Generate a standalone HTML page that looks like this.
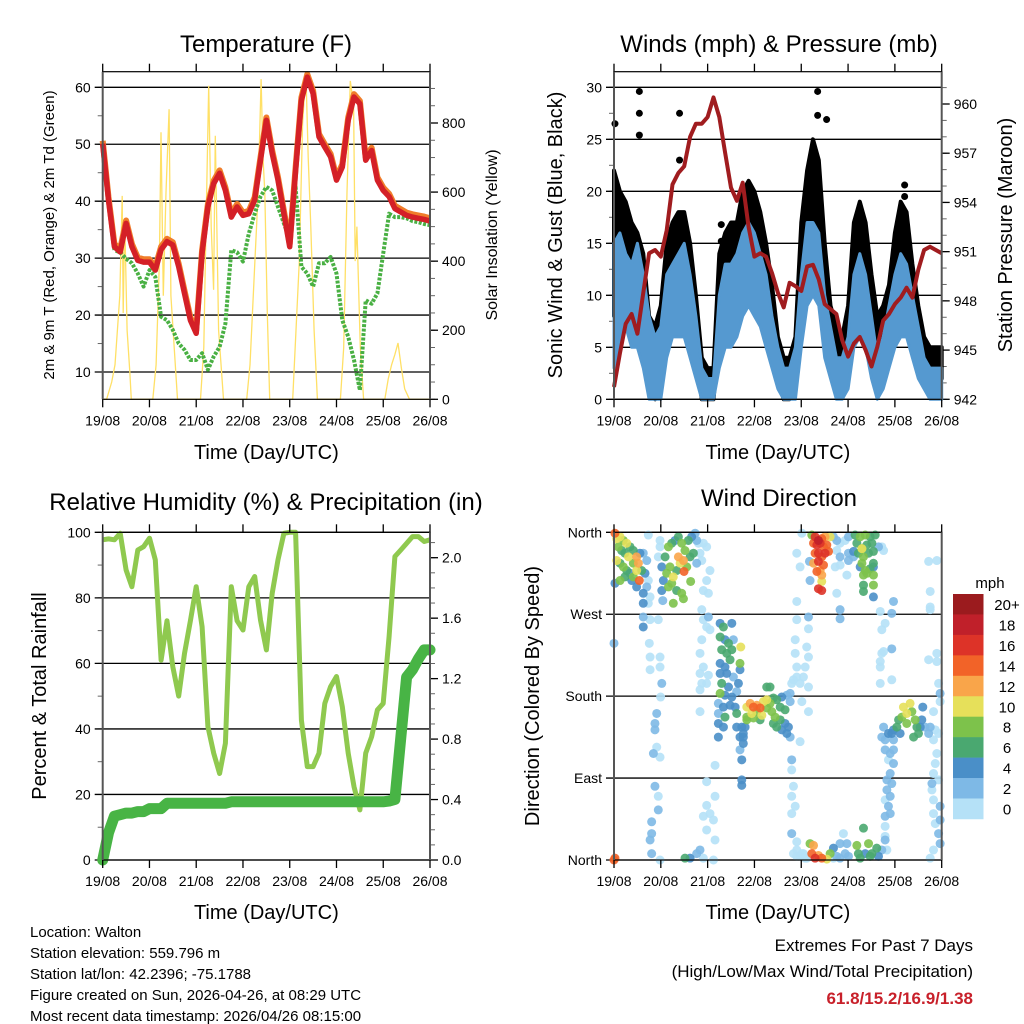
<!DOCTYPE html>
<html><head><meta charset="utf-8"><style>
html,body{margin:0;padding:0;background:#fff}
svg{display:block;font-family:"Liberation Sans",sans-serif}
</style></head><body>
<svg id="c" width="1024" height="1024" viewBox="0 0 1024 1024"></svg>
<script>
// ---------- DATA (3-hourly, hours since 19/08 00 UTC) ----------
const tempT2m=[50.1,40.2,32,31.1,36.1,32,29.6,29.3,29.3,27.9,31.5,32.9,32.3,28.5,23.8,19.1,16.8,30.9,39,43.1,44.9,41.9,37.2,39,37.5,37.8,40.2,47.2,54.2,48.4,43.7,37.8,32,45.4,57.7,61.8,58.9,51.3,49.5,47.8,43.7,46,54.2,58.3,57.1,47.2,48.9,43.7,41.9,40.8,38.7,38.1,37.5,37.2,37,36.8,36.5];
const tempTd=[50,40,31.4,31,29.9,29.1,27.3,25,27.9,26.7,19.7,19.1,17.4,15,13.9,12.1,12.1,13.3,10.4,12.7,14.4,18.5,31.4,31,29.4,34.3,37.8,40.8,42.5,41.9,39,36.1,33.2,42.5,28.5,27.3,25,29.1,29.1,30.2,27.3,19.1,16.2,12.1,6.8,22.6,22,23.8,30.8,37.8,37.2,37.2,37,36.5,36.3,36,35.8];
const solarHours=[0,2,4.6,6.3,8.8,10,10.5,11.3,12.5,13.9,14.7,25.7,27.4,29.1,29.9,31.1,32.5,34.1,35,36.7,38.4,50.2,51.9,53,54.4,55.7,56.9,57.8,59.5,62,73.9,75.6,78.1,79.8,81.3,82.3,83.2,84.5,85.7,97.5,99.2,100.9,102.6,104.3,105.5,106.8,108.5,110.2,122,123.7,125.4,127.1,128.8,129.6,130.5,132.2,133.9,144.8,146.6,148.3,150,151.6,153.3,155,157.5,168];
const solarVals=[0,0,50,100,300,589,250,520,200,80,0,0,100,400,773,300,600,840,300,150,0,0,150,500,908,500,317,763,200,0,0,100,400,600,927,700,600,250,0,0,200,400,800,947,700,500,200,0,0,150,600,922,850,400,500,150,0,0,60,100,130,163,90,30,0,0];
const windHi=[15,16,14,13,15,12,8,6,7,12,13,14,15,12,8,3,2,2,10,13,13,14,16,17,16,14,12,8,5,3,3,5,12,17,17,16,10,7,4,4,6,12,14,12,8,4,6,9,12,14,13,10,7,4,3,3,3];
const windLo=[3,6,7,5,5,3,0,0,0,4,6,6,6,4,2,0,0,0,3,5,5,6,8,9,8,7,5,3,1,0,0,0,5,9,10,9,4,2,0,0,1,5,6,5,2,0,1,3,5,6,6,4,2,1,0,0,0];
const gustHi=[22,20,19,17,16,14,8,7,9,15,17,18,18,15,10,4,3,3,14,16,17,17,20,21,20,18,15,11,6,4,4,6,17,22,25,23,15,9,7,6,9,17,19,17,12,8,9,11,16,19,18,13,9,6,5,5,5];
const gustLo=[8,12,11,9,10,6,1,0,1,6,10,11,10,7,4,0,0,0,6,8,8,9,13,13,12,10,8,5,2,0,0,1,8,12,15,13,7,4,1,1,3,7,8,7,4,2,4,5,8,9,8,6,4,2,2,2,2];
const gustOutHours=[0.5,13,13,13,33.6,33.6,55,55,104.4,104.4,109,125,149,149];
const gustOutVals=[26.5,29.6,27.5,25.4,27.5,23,16.8,15.2,29.6,27.3,26.9,15.2,20.6,19.5];
const pressure=[942.75,944.8,946.6,947.2,946,948.5,950.9,951.1,950.7,952.3,955.1,955.8,956.2,958,958.8,958.8,959.2,960.4,959.2,957,954.9,954.1,955.2,952.5,950.7,950.9,950.7,949.7,948.5,947.6,949.1,948.9,948.6,950.1,950.2,949.3,947.8,947.5,947.2,945.6,944.6,945.4,945.8,945,944,945.2,946.8,947.2,947.8,948.2,948.8,948.2,949.9,951.1,951.3,951.1,950.9];
const rh=[97.7,98,97.7,99.7,88.5,83.4,94.6,95.6,98.2,91.6,61,73,59,50,63,73,83.4,71.2,40.7,32.6,26.4,35.6,83.4,73,70.2,83.4,86.5,73.2,64.1,81.4,91.6,99.7,100,100,42.7,28.5,28.5,32.6,47.8,52.9,56,46.8,32.6,22.4,15.3,32.6,37.6,45.8,47.8,68.2,92.6,94.6,96.6,98.7,98.7,97.2,97.7];
const precip=[0,0.18,0.29,0.3,0.31,0.31,0.32,0.32,0.34,0.34,0.34,0.375,0.375,0.375,0.375,0.375,0.375,0.375,0.375,0.375,0.375,0.375,0.385,0.385,0.385,0.385,0.385,0.385,0.385,0.385,0.385,0.385,0.385,0.385,0.385,0.385,0.385,0.385,0.385,0.385,0.385,0.385,0.385,0.385,0.385,0.385,0.385,0.385,0.385,0.39,0.40,0.81,1.21,1.26,1.33,1.39,1.39];
const dayLabels=["19/08","20/08","21/08","22/08","23/08","24/08","25/08","26/08"];
const tempTicks=[10,20,30,40,50,60];
const solarTicks=[0,200,400,600,800];
const windTicks=[0,5,10,15,20,25,30];
const presTicks=[942,945,948,951,954,957,960];
const rhTicks=[0,20,40,60,80,100];
const rainTicks=[0.0,0.4,0.8,1.2,1.6,2.0];
const dirTicks=[0,90,180,270,360];
const dirTickLabels=["North","East","South","West","North"];
const speedBins=["0","2","4","6","8","10","12","14","16","18","20+"];
const speedColors=["#b5e1f7","#7eb9e6","#4a8fc8","#4aa870","#7dc24b","#e6e05a","#f9a54a","#f26328","#dd3328","#c0202a","#9b1b1e"];
// [hours, direction deg, speed class mph]
const windDirObs=[
[0.5,359,16],[1.4,353,12],[3.1,355,12],[4.8,351,10],[6.5,348,12],[8.2,344,8],[2.2,344,10],[3.9,340,8],[5.6,337,8],[7.4,333,12],[9.9,340,8],[11.6,333,14],[13.3,337,6],[15,337,4],[1.4,329,12],[3.1,326,8],[4.8,322,10],[6.5,318,8],[8.2,315,6],[9.9,311,10],[11.6,318,12],[13,307,16],[14.2,318,8],[15.9,315,6],[0.5,304,6],[3.1,307,10],[5.6,311,8],[9.1,307,6],[11.6,300,6],[15,293,6],[15,282,6],[16.8,300,4],[16.8,329,4],[18.5,289,2],[9.9,326,10],[12.5,326,14],
[24.5,322,6],[26.2,333,8],[27.9,344,10],[29.6,348,8],[31.3,351,6],[33,355,8],[34.7,348,10],[36.4,340,10],[38.1,351,8],[39.8,355,6],[41.6,359,4],[42.4,351,4],[25.3,307,6],[27,315,10],[28.7,322,10],[30.4,311,12],[32.1,318,8],[33.9,326,12],[35.6,329,14],[37.3,322,10],[39,333,8],[40.7,337,8],[27.9,300,10],[29.6,304,10],[32.1,296,8],[34.7,293,10],[35.6,287,10],[24.5,296,6],[30.4,282,10],[25,285,4],[39.3,306,10],[33,333,14],[35.9,317,16],[42.4,326,4],[44.1,337,2],[43.3,348,2],
[17.6,357,2],[23.6,351,2],[23.6,344,2],[22.7,333,2],[17.6,307,2],[17.6,282,2],[18.5,264,2],[22.7,264,2],[15,267,4],[15,256,6],[18.1,238,2],[18.5,223,2],[23.6,223,2],[18.5,209,2],[23.6,212,2],[24.5,194,4],[23.9,179,2],[21.9,161,4],[21,150,4],[21,143,4],[21.9,124,2],[20.2,117,4],[23.6,113,2],[21,81,4],[22.7,70,2],[22.7,55,4],[19.3,42,4],[19.3,29,4],[18.5,22,4],[19.3,7,4],[23.6,0,2],[0,238,4],
[45.8,348,2],[47.5,344,2],[45,329,2],[49.2,318,2],[47.5,307,2],[45.8,296,2],[48.4,293,2],[45,275,2],[45.8,264,2],[47.5,256,2],[49.2,253,2],[48.4,267,4],[45,242,2],[44.1,227,2],[45.8,212,2],[44.1,205,2],[48.4,203,2],[45,194,2],[47.5,194,2],[44.1,187,2],[44.1,163,2],[51.8,104,2],[47.5,86,2],[51.8,70,2],[47.5,60,2],[49.2,51,2],[45.8,48,2],[51,44,2],[47.5,33,2],[51.8,22,2],[44.1,11,4],[42.4,7,4],[45.8,2,2],[51,0,2],[36.4,2,8],[39,2,6],
[54.4,260,6],[56.1,256,8],[60.4,260,6],[54.4,245,8],[56.9,242,6],[58.7,238,8],[61.2,242,4],[55.2,231,8],[57.8,227,8],[60.4,231,8],[65,234,12],[54.4,216,6],[56.9,212,6],[59.5,220,8],[64.6,216,10],[54.4,205,6],[57.8,205,6],[61.2,201,4],[64.6,209,6],[55.2,194,8],[58.7,190,6],[63.8,194,6],[54.4,183,10],[56.9,181,6],[60.4,179,6],[62.9,185,4],[53.5,172,4],[56.1,168,6],[59.5,170,6],[62.1,168,6],[53.5,161,4],[56.9,157,8],[62.9,161,8],[53.5,150,6],[56.1,146,6],[62.9,146,6],[53.5,135,6],[65.5,146,6],[64.6,135,6],[66.3,135,6],[66.3,128,6],[64.6,121,4],[65.5,110,6],[65.5,88,6],[65.5,82,6],
[68.1,168,12],[69.8,172,14],[71.5,168,16],[73.2,170,14],[74.9,167,16],[76.6,174,12],[78.3,176,12],[80,172,10],[81.7,178,8],[83.4,176,8],[86,179,6],[88.6,181,4],[90.3,183,4],[68.1,157,10],[70.6,161,12],[73.2,163,10],[75.8,159,12],[78.3,167,10],[80.9,163,10],[82.6,157,10],[85.2,154,8],[87.7,150,6],[89.4,146,6],[68.1,154,10],[71.5,156,10],[74.9,154,8],[78.3,190,8],[80,190,8],[81.7,150,8],[83.4,146,8],[86,143,6],[88.6,139,6],[90.3,135,4],[90.3,174,4],[87.7,165,8],[85.2,168,8],[67.2,146,6],[66.3,139,6],
[91.1,194,2],[92,198,2],[93.7,201,2],[97.1,201,2],[95.4,194,2],[93.7,212,2],[92.9,227,2],[92.9,242,2],[98.8,234,2],[99.7,223,2],[98,212,2],[99.7,190,2],[99.7,163,2],[96.3,174,2],[95.4,130,2],[91.1,110,4],[91.1,99,2],[92,81,2],[91.1,70,2],[92.9,59,2],[91.1,51,2],[91.1,29,4],[93.7,20,2],[93.7,11,2],[95.4,4,2],[97.1,7,2],[98.8,2,2],[93.7,264,2],[93.7,284,2],[95.4,322,2],[93.7,337,2],[96.3,359,2],[100.5,307,4],[99.7,267,4],[99.7,254,2],
[101.4,357,10],[103.1,355,18],[104.8,351,20],[106.5,353,16],[108.2,355,14],[110.8,355,12],[102.3,348,16],[104,346,18],[105.7,348,18],[107.4,344,16],[109.1,346,16],[103.1,337,16],[104.8,337,18],[106.5,333,16],[108.2,337,18],[110,339,16],[102.3,326,14],[104.8,328,18],[107.4,324,16],[105.7,318,14],[104,317,16],[106.5,313,14],[106.5,306,12],[104.8,298,18],[106.5,296,18],[100.2,328,4],[112.5,355,4],[114.2,351,4],[115.9,348,2],[114.2,340,2],[115.9,333,4],[120.2,337,4],[120.2,329,4],[115.9,324,2],[113.4,322,2],[119.4,313,2],[114.2,293,2],[115.9,275,4],[115.9,265,4],[120.2,355,4],[118.5,351,2],
[123.6,357,8],[126.2,355,10],[128.8,357,10],[131.3,355,8],[133.9,357,8],[124.5,348,8],[127.1,342,10],[129.6,346,8],[132.2,348,8],[125.3,337,8],[127.9,333,10],[130.5,337,8],[133,339,8],[127.1,326,10],[128.8,318,10],[131.3,320,8],[133,326,8],[127.9,313,10],[129.6,315,10],[133,313,10],[135.6,344,4],[137.3,344,2],[122.8,339,6],[122.8,333,4],[126.2,322,6],[127.9,302,8],[133,302,10],[133,289,6],[127.9,295,8],[133,322,6],[138.2,340,2],[127.1,342,12],
[136.5,273,2],[142.4,271,4],[143.3,284,4],[137.3,253,2],[139,260,2],[142.4,232,4],[137.3,227,2],[136.5,218,2],[136.5,212,2],[142.4,198,2],[136.5,194,2],[138.2,229,2],[161.3,328,2],[165.5,329,2],[162.1,295,2],[162.1,278,2],[162.1,275,2],[161.3,220,2],[165.5,227,2],[165.5,218,2],[166.4,194,2],[167.2,183,4],[167.2,174,2],[163.8,163,2],
[137.3,135,4],[138.2,146,4],[139,132,4],[140.7,139,6],[142.4,139,6],[143.3,143,6],[145,146,8],[145.9,154,8],[147.6,157,10],[148.4,168,12],[150.1,161,12],[151.8,172,12],[152.7,163,10],[154.4,154,10],[155.3,146,8],[156.1,139,8],[157,146,6],[157.8,154,6],[158.3,168,6],[159.5,146,4],[161.3,139,4],[162.1,146,4],[164.7,143,2],[166.4,139,2],[150.1,150,10],[153.6,135,8],[146.7,139,6],[143.3,132,4],
[139,121,4],[141.6,117,4],[143.3,121,4],[140.7,110,2],[143.3,106,4],[141.6,95,4],[139.9,88,4],[142.4,84,4],[139.9,77,4],[141.6,70,4],[139,66,2],[140.7,59,4],[141.6,51,4],[139,48,4],[139,37,2],[139,26,2],[139.9,11,2],
[163.8,132,2],[165.5,117,2],[164.7,106,2],[163.8,95,2],[166.4,88,2],[163,84,4],[163,77,2],[163.8,66,2],[167.2,59,4],[163.8,51,2],[167.2,44,4],[164.7,40,2],[166.4,29,4],[167.2,18,4],[163.8,11,2],[162.1,2,2],
[92,7,2],[93.7,4,2],[96.3,7,2],[100.5,18,10],[102.3,16,14],[101.4,7,16],[103.1,2,18],[104.8,5,14],[106.5,2,16],[109.1,1,12],[110.8,7,10],[112.5,13,6],[114.2,4,4],[115.9,2,4],[115.9,18,4],[117.6,29,2],[118.5,7,4],[119.4,18,4],[120.2,4,4],[124.5,16,10],[125.3,7,8],[126.2,2,8],[127.9,35,8],[128.8,7,6],[130.5,18,10],[131.3,4,8],[132.2,7,8],[134.7,13,8],[135.6,4,6],[137.3,11,4],[139,22,4],[112.5,2,2],[98,2,2],[0.5,2,16],[0,0,16]
];

// ---------- DRAWING ----------
const NS="http://www.w3.org/2000/svg";
const svg=document.getElementById('c');
function el(tag,attrs,parent){const e=document.createElementNS(NS,tag);for(const k in attrs)e.setAttribute(k,attrs[k]);(parent||svg).appendChild(e);return e;}
function txt(s,x,y,size,anchor,parent,extra){const t=el('text',Object.assign({x:x,y:y,'font-size':size,'text-anchor':anchor||'middle',fill:'#000'},extra||{}),parent);t.textContent=s;return t;}
function lin(d0,d1,r0,r1){return v=>r0+(v-d0)*(r1-r0)/(d1-d0);}
function hoursArr(n){const a=[];for(let i=0;i<n;i++)a.push(i*3);return a;}
const H=hoursArr(57);

function panel(name,L,R,T,B){
  const g=el('g',{});
  
  
  const xs=lin(0,168,L,R);
  return {g,xs,L,R,T,B};
}
function xAxis(p,labelY){
  const ax=el('g',{},p.g);
  
  
  dayLabels.forEach((d,i)=>{
    const x=p.xs(i*24);
    el('line',{x1:x,y1:p.B,x2:x,y2:p.B+8,stroke:'#000','stroke-width':1.3},ax);
    el('line',{x1:x,y1:p.T,x2:x,y2:p.T-8,stroke:'#000','stroke-width':1.3},ax);
    const t=txt(d,x,p.B+26,14,'middle',ax);
    
    
  });
  const t=txt('Time (Day/UTC)',(p.L+p.R)/2,labelY,20,'middle',p.g);
  
  
}
function frame(p){
  el('rect',{x:p.L,y:p.T,width:p.R-p.L,height:p.B-p.T,fill:'none',stroke:'#000','stroke-width':1.2},p.g);
  el('line',{x1:p.L,y1:p.T,x2:p.L,y2:p.B,stroke:'#555','stroke-width':2},p.g);
  el('line',{x1:p.R,y1:p.T,x2:p.R,y2:p.B,stroke:'#555','stroke-width':2},p.g);
}
function leftAxis(p,ticks,ys,minorStep,lo,hi,labels){
  const ax=el('g',{},p.g);
  
  
  if(minorStep){for(let v=lo;v<=hi+1e-9;v+=minorStep){const y=ys(v);if(y<p.T-0.5||y>p.B+0.5)continue;el('line',{x1:p.L-5,y1:y,x2:p.L,y2:y,stroke:'#666','stroke-width':1},ax);}}
  ticks.forEach((v,i)=>{const y=ys(v);
    el('line',{x1:p.L-8,y1:y,x2:p.R,y2:y,stroke:'#000','stroke-width':1.3},ax);
    const t=txt(labels?labels[i]:String(v),p.L-12,y+5,14,'end',ax);
    
    
  });
}
function rightAxis(p,ticks,ys,minorStep,lo,hi,fmt){
  const ax=el('g',{},p.g);
  
  
  if(minorStep){for(let v=lo;v<=hi+1e-9;v+=minorStep){const y=ys(v);if(y<p.T-0.5||y>p.B+0.5)continue;el('line',{x1:p.R,y1:y,x2:p.R+5,y2:y,stroke:'#666','stroke-width':1},ax);}}
  ticks.forEach(v=>{const y=ys(v);
    el('line',{x1:p.R,y1:y,x2:p.R+8,y2:y,stroke:'#000','stroke-width':1.3},ax);
    const t=txt(fmt?fmt(v):String(v),p.R+12,y+5,14,'start',ax);
    
    
  });
}
function vlabel(s,x,y,size,name){
  const t=txt(s,x,y,size,'middle',svg,{transform:`rotate(-90 ${x} ${y})`});
  
  
}
function title(s,x,y,name){const t=txt(s,x,y,24,'middle');}
function pathD(xsArr,ysArr){return xsArr.map((x,i)=>(i?'L':'M')+x.toFixed(1)+','+ysArr[i].toFixed(1)).join('');}

// ===== Panel 1: Temperature =====
const p1=panel('temperature-panel',102.7,430,71.7,399.3);
const tY=lin(10,60,372,87.3), sY=lin(0,800,399.3,123);
title('Temperature (F)',266,52,'temperature-title');
leftAxis(p1,tempTicks,tY,5,5,62);
rightAxis(p1,solarTicks,sY,50,0,950);
const solarPath=el('path',{d:pathD(solarHours.map(p1.xs),solarVals.map(sY)),fill:'none',stroke:'#ffe066','stroke-width':1.3},p1.g);


const tdPath=el('path',{d:pathD(H.map(p1.xs),tempTd.map(tY)),fill:'none',stroke:'#49b043','stroke-width':4,'stroke-dasharray':'3 1.5','stroke-linejoin':'round'},p1.g);


const t9Path=el('path',{d:pathD(H.map(p1.xs),tempT2m.map(v=>tY(v+0.5))),fill:'none',stroke:'#f07d2a','stroke-width':6,'stroke-linejoin':'round'},p1.g);


const t2Path=el('path',{d:pathD(H.map(p1.xs),tempT2m.map(tY)),fill:'none',stroke:'#d42027','stroke-width':5.5,'stroke-linejoin':'round'},p1.g);


frame(p1);xAxis(p1,459);
vlabel('2m & 9m T (Red, Orange) & 2m Td (Green)',54,235,15,'left-y-axis-title');
vlabel('Solar Insolation (Yellow)',497,235,16,'right-y-axis-title');

// ===== Panel 2: Winds =====
const p2=panel('winds-panel',614,941.7,71.7,399.3);
const wY=lin(0,30,399.3,87.3), pY=lin(942,960,399.3,104);
title('Winds (mph) & Pressure (mb)',779,52,'winds-title');
leftAxis(p2,windTicks,wY,2.5,0,31);
rightAxis(p2,presTicks,pY,1,942,961);
const gx=H.map(p2.xs);
const gBand=el('path',{d:pathD(gx,gustHi.map(wY))+gx.slice().reverse().map((x,i)=>'L'+x.toFixed(1)+','+wY(gustLo[gustLo.length-1-i]).toFixed(1)).join('')+'Z',fill:'#000',stroke:'#000','stroke-width':4,'stroke-linejoin':'round'},p2.g);


gustOutHours.forEach((h,i)=>{
  const c=el('circle',{cx:p2.xs(h),cy:wY(gustOutVals[i]),r:3.5,fill:'#000'},p2.g);
  
  
});
const wBand=el('path',{d:pathD(gx,windHi.map(wY))+gx.slice().reverse().map((x,i)=>'L'+x.toFixed(1)+','+wY(windLo[windLo.length-1-i]).toFixed(1)).join('')+'Z',fill:'#5599d0',stroke:'#5599d0','stroke-width':3,'stroke-linejoin':'round'},p2.g);


const pPath=el('path',{d:pathD(gx,pressure.map(pY)),fill:'none',stroke:'#a01c1f','stroke-width':4,'stroke-linejoin':'round'},p2.g);


frame(p2);xAxis(p2,459);
vlabel('Sonic Wind & Gust (Blue, Black)',562,235,20,'left-y-axis-title');
vlabel('Station Pressure (Maroon)',1012,235,20,'right-y-axis-title');

// ===== Panel 3: RH & Precip =====
const p3=panel('humidity-panel',102.7,430,532.3,860);
const hY=lin(0,100,860,532.3), rY=lin(0,2,860,557.7);
title('Relative Humidity (%) & Precipitation (in)',266,510,'humidity-title');
leftAxis(p3,rhTicks,hY,10,0,100);
rightAxis(p3,rainTicks,rY,0.1,0,2.1,v=>v.toFixed(1));
const rhPath=el('path',{d:pathD(H.map(p3.xs),rh.map(hY)),fill:'none',stroke:'#8fc94f','stroke-width':5,'stroke-linejoin':'round'},p3.g);


const prPath=el('path',{d:pathD(H.map(p3.xs),precip.map(rY)),fill:'none',stroke:'#48b445','stroke-width':11,'stroke-linejoin':'round','stroke-linecap':'round'},p3.g);


frame(p3);xAxis(p3,919);
vlabel('Percent & Total Rainfall',46,696,20,'left-y-axis-title');

// ===== Panel 4: Wind direction =====
const p4=panel('wind-direction-panel',614,941.7,532.3,860);
const dY=lin(0,360,860,532.3);
title('Wind Direction',779,506,'wind-direction-title');
leftAxis(p4,dirTicks,dY,0,0,0,dirTickLabels);
function spdColor(v){let i=Math.floor(v/2)-1;if(i<0)i=0;if(i>10)i=10;return speedColors[i];}
windDirObs.slice().sort((a,b)=>a[2]-b[2]).forEach(o=>{
  const c=el('circle',{cx:p4.xs(o[0]),cy:dY(o[1]),r:4.5,fill:spdColor(o[2]),'fill-opacity':0.9},p4.g);
  
  
});
frame(p4);xAxis(p4,919);
vlabel('Direction (Colored By Speed)',539,696,20,'left-y-axis-title');
// colorbar
const cb=el('g',{});


const cbTop=594,cbH=20.45;
txt('mph',990,588,15,'middle',cb);
speedBins.slice().reverse().forEach((lab,i)=>{
  const col=speedColors[10-i];
  const r=el('rect',{x:953,y:cbTop+i*cbH,width:30.5,height:cbH+0.3,fill:col},cb);
  
  
  txt(lab,1007,cbTop+i*cbH+16,15,'middle',cb);
});

// ===== Footer text =====
const info=el('g',{});


["Location: Walton","Station elevation: 559.796 m","Station lat/lon: 42.2396; -75.1788","Figure created on Sun, 2026-04-26, at 08:29 UTC","Most recent data timestamp: 2026/04/26 08:15:00"].forEach((s,i)=>txt(s,30,937+i*21,15,'start',info));
const ext=el('g',{});


txt('Extremes For Past 7 Days',973,951,17,'end',ext);
txt('(High/Low/Max Wind/Total Precipitation)',973,977,17,'end',ext);
txt('61.8/15.2/16.9/1.38',973,1004,17,'end',ext,{fill:'#c8202a','font-weight':'bold'});
</script>
</body></html>
